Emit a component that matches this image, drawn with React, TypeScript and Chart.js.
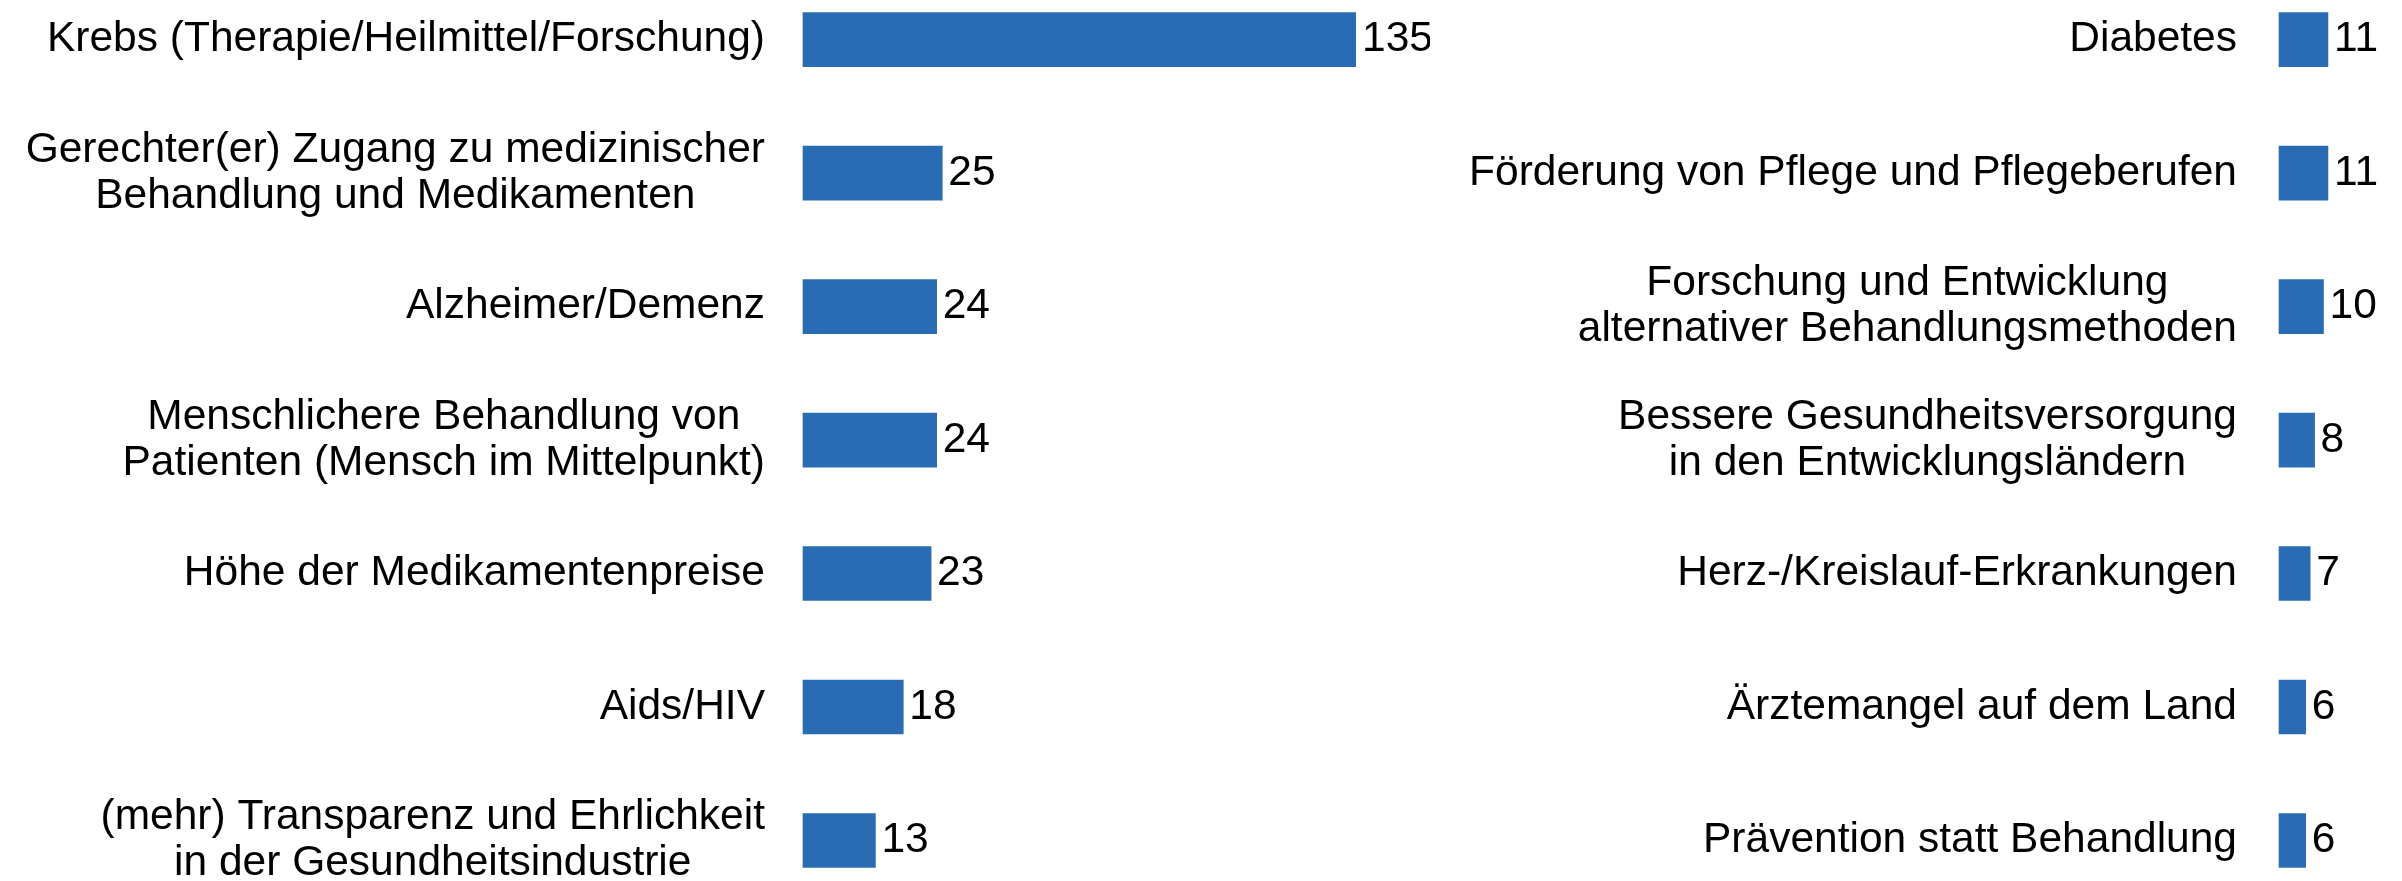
import React, { useEffect, useRef } from 'react';
import { Chart, registerables } from 'chart.js';

Chart.register(...registerables);

// ---- data ----
const leftCategories: string[][] = [
  ['Krebs (Therapie/Heilmittel/Forschung)'],
  ['Gerechter(er) Zugang zu medizinischer', 'Behandlung und Medikamenten'],
  ['Alzheimer/Demenz'],
  ['Menschlichere Behandlung von', 'Patienten (Mensch im Mittelpunkt)'],
  ['Höhe der Medikamentenpreise'],
  ['Aids/HIV'],
  ['(mehr) Transparenz und Ehrlichkeit', 'in der Gesundheitsindustrie'],
];
const leftValues: number[] = [135, 25, 24, 24, 23, 18, 13];

const rightCategories: string[][] = [
  ['Diabetes'],
  ['Förderung von Pflege und Pflegeberufen'],
  ['Forschung und Entwicklung', 'alternativer Behandlungsmethoden'],
  ['Bessere Gesundheitsversorgung', 'in den Entwicklungsländern'],
  ['Herz-/Kreislauf-Erkrankungen'],
  ['Ärztemangel auf dem Land'],
  ['Prävention statt Behandlung'],
];
const rightValues: number[] = [11, 11, 10, 8, 7, 6, 6];

// ---- style ----
const BAR_COLOR = '#296cb3';
const FONT_SIZE = 42.5;
const FONT = `${FONT_SIZE}px "Liberation Sans", Arial, sans-serif`;
const LINE_PITCH = 46;
const W = 2402;
const H = 881;

type PanelProps = {
  labels: string[][];
  values: number[];
  left: number;
  width: number;
  zeroX: number;
  pxPerUnit: number;
  max: number;
  labelGap: number;
};

function Panel({ labels, values, left, width, zeroX, pxPerUnit, max, labelGap }: PanelProps) {
  const ref = useRef<HTMLCanvasElement | null>(null);

  useEffect(() => {
    if (!ref.current) return;
    const sideLabels = {
      id: 'sideLabels',
      afterDatasetsDraw(chart: any) {
        const ctx = chart.ctx as CanvasRenderingContext2D;
        const yScale = chart.scales.y;
        const xScale = chart.scales.x;
        const area = chart.chartArea;
        ctx.save();
        ctx.font = FONT;
        ctx.fillStyle = '#000000';
        ctx.textBaseline = 'middle';
        (chart.data.labels as any[]).forEach((lab, i) => {
          const lines: string[] = Array.isArray(lab) ? lab : [String(lab)];
          const cy = yScale.getPixelForValue(i);
          const bw = Math.max(...lines.map((l) => ctx.measureText(l).width));
          const cx = area.left - labelGap - bw / 2;
          ctx.textAlign = 'center';
          lines.forEach((l, j) => {
            ctx.fillText(l, cx, cy + (j - (lines.length - 1) / 2) * LINE_PITCH);
          });
          const v = chart.data.datasets[0].data[i] as number;
          const end = Math.min(xScale.getPixelForValue(v), area.right);
          ctx.textAlign = 'left';
          ctx.fillText(String(v), end + 6, cy);
        });
        ctx.restore();
      },
    };

    const chart = new Chart(ref.current, {
      type: 'bar',
      data: {
        labels: labels as any,
        datasets: [
          {
            data: values,
            backgroundColor: BAR_COLOR,
            borderWidth: 0,
            barThickness: 54,
            clip: { left: false, top: false, right: 0, bottom: false } as any,
          },
        ],
      },
      options: {
        indexAxis: 'y',
        responsive: false,
        animation: false,
        devicePixelRatio: 1,
        layout: {
          padding: {
            left: zeroX,
            right: width - zeroX - max * pxPerUnit,
            top: 39.6,
            bottom: 40.5,
          },
        },
        plugins: {
          legend: { display: false },
          tooltip: { enabled: false },
        },
        scales: {
          x: { display: false, min: 0, max: max },
          y: { display: false, offset: false, grid: { display: false } },
        },
      },
      plugins: [sideLabels],
    });
    return () => chart.destroy();
  }, []);

  return (
    <canvas
      ref={ref}
      width={width}
      height={H}
      style={{ position: 'absolute', left, top: 0, width, height: H }}
    />
  );
}

export default function App() {
  return (
    <div
      style={{
        position: 'fixed',
        left: 0,
        top: 0,
        width: W,
        height: H,
        background: '#ffffff',
        overflow: 'hidden',
      }}
    >
      <Panel
        labels={leftCategories}
        values={leftValues}
        left={0}
        width={1430}
        zeroX={803}
        pxPerUnit={5.57}
        max={99.3}
        labelGap={38}
      />
      <Panel
        labels={rightCategories}
        values={rightValues}
        left={1430}
        width={972}
        zeroX={849}
        pxPerUnit={4.45}
        max={26}
        labelGap={42}
      />
    </div>
  );
}
